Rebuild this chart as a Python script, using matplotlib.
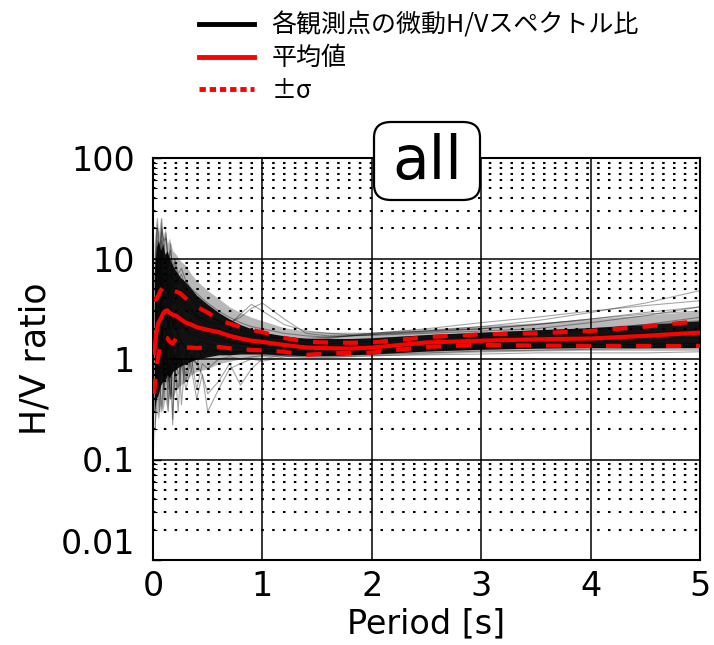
import numpy as np
import matplotlib
matplotlib.use("Agg")
import matplotlib.pyplot as plt
from matplotlib.lines import Line2D
from matplotlib.patches import FancyBboxPatch
from matplotlib.transforms import ScaledTranslation
from matplotlib.ticker import FixedLocator, FixedFormatter, LogLocator, NullFormatter

# ---------------- data ----------------
period_env = [0.01, 0.03, 0.05, 0.07, 0.09, 0.11, 0.13, 0.15, 0.18, 0.21, 0.25, 0.3, 0.35,
              0.4, 0.5, 0.6, 0.7, 0.8, 0.9, 1.0, 1.2, 1.4, 1.6, 1.8, 2.0, 2.5, 3.0, 3.5,
              4.0, 4.5, 5.0]

mean_hv = [1.1, 1.8, 2.3, 2.5, 2.8, 3.0, 3.05, 2.9, 2.75, 2.7, 2.5, 2.3, 2.2, 2.07, 1.95,
           1.85, 1.7, 1.6, 1.52, 1.48, 1.38, 1.3, 1.28, 1.27, 1.3, 1.46, 1.52, 1.57, 1.6,
           1.7, 1.83]
upper_sigma = [3.9, 3.9, 4.3, 4.8, 5.1, 5.3, 5.3, 5.2, 4.8, 4.7, 4.5, 4.0, 3.6, 3.3, 2.9,
               2.45, 2.25, 2.08, 1.95, 1.85, 1.62, 1.48, 1.46, 1.45, 1.46, 1.65, 1.76, 1.8,
               1.9, 2.1, 2.39]
lower_sigma = [0.45, 0.8, 1.1, 1.4, 1.6, 1.65, 1.62, 1.5, 1.42, 1.6, 1.4, 1.3, 1.3, 1.29,
               1.3, 1.32, 1.28, 1.25, 1.23, 1.22, 1.18, 1.1, 1.14, 1.15, 1.16, 1.32, 1.38,
               1.36, 1.35, 1.35, 1.35]

# dense core of the station spectra (nearly solid black)
core_upper = [7, 13, 15, 12, 14, 11, 12, 10, 8.5, 7.5, 6.5, 5.8, 5.0, 4.3, 3.5, 2.9, 2.5,
              2.2, 2.0, 1.85, 1.7, 1.6, 1.6, 1.6, 1.62, 1.75, 1.85, 1.95, 2.05, 2.2, 2.4]
core_lower = [0.3, 0.4, 0.45, 0.55, 0.6, 0.6, 0.7, 0.65, 0.75, 0.8, 0.85, 0.9, 0.95, 1.0,
              1.05, 1.1, 1.1, 1.12, 1.12, 1.12, 1.1, 1.08, 1.08, 1.1, 1.12, 1.2, 1.25, 1.28,
              1.3, 1.3, 1.3]
# looser halo of overlapping spectra (grey)
halo_upper = [14, 24, 18, 26, 16, 20, 14, 16, 12, 11, 9.5, 8.5, 7, 6, 4.8, 4.0, 3.3, 2.9,
              2.6, 2.4, 2.05, 1.9, 1.85, 1.85, 1.85, 2.0, 2.15, 2.3, 2.5, 2.75, 3.0]
halo_lower = [0.15, 0.3, 0.25, 0.35, 0.3, 0.4, 0.3, 0.45, 0.4, 0.5, 0.55, 0.6, 0.7, 0.75,
              0.8, 0.9, 0.95, 1.0, 1.02, 1.05, 1.05, 1.03, 1.03, 1.05, 1.07, 1.12, 1.17,
              1.2, 1.22, 1.22, 1.22]

# individual station spectra
period_line = [0.02, 0.04, 0.06, 0.08, 0.10, 0.12, 0.14, 0.16, 0.18, 0.20, 0.23, 0.26, 0.30,
               0.35, 0.40, 0.45, 0.50, 0.60, 0.70, 0.80, 0.90, 1.00, 1.20, 1.40, 1.60, 1.80,
               2.00, 2.50, 3.00, 3.50, 4.00, 4.50, 5.00]
station_01 = [8, 20, 9, 25, 12, 18, 8, 14, 7, 9, 6, 7, 5, 4.5, 3.8, 3.5, 3.2, 2.8, 2.4, 2.1, 1.9, 1.8, 1.6, 1.55, 1.6, 1.7, 1.75, 1.9, 2.1, 2.4, 2.9, 3.6, 4.8]
station_02 = [0.3, 1.5, 0.5, 2.0, 0.4, 1.2, 0.3, 0.9, 0.25, 0.8, 0.5, 1.0, 0.7, 1.1, 0.9, 1.2, 1.1, 1.2, 1.15, 1.2, 1.15, 1.2, 1.18, 1.15, 1.12, 1.12, 1.15, 1.2, 1.25, 1.3, 1.3, 1.32, 1.35]
station_03 = [3, 10, 5, 15, 6, 9, 4, 8, 5, 6, 4.5, 5, 3.8, 3.2, 2.6, 2.3, 2.1, 1.9, 1.7, 1.6, 1.55, 1.5, 1.45, 1.4, 1.42, 1.45, 1.5, 1.6, 1.7, 1.8, 1.95, 2.2, 2.6]
station_04 = [1.0, 4, 1.5, 6, 2, 3, 1.2, 4, 2, 2.5, 1.5, 3, 2.2, 2.5, 1.8, 2.0, 1.7, 1.6, 1.5, 1.4, 1.35, 1.3, 1.3, 1.25, 1.25, 1.3, 1.35, 1.45, 1.5, 1.55, 1.6, 1.65, 1.7]
station_05 = [0.6, 2.5, 1.0, 3.5, 0.6, 2, 0.8, 0.4, 1.8, 0.6, 1.5, 0.35, 1.2, 0.8, 1.4, 1.0, 1.3, 1.2, 1.1, 1.2, 1.25, 1.2, 1.2, 1.2, 1.2, 1.22, 1.25, 1.3, 1.35, 1.38, 1.4, 1.4, 1.42]
station_06 = [2, 6, 3, 9, 4, 6, 3, 5, 3.5, 4, 3, 3.5, 3, 2.8, 2.5, 2.6, 2.4, 2.2, 2.3, 2.6, 3.2, 3.6, 2.5, 1.8, 1.7, 1.7, 1.72, 1.8, 1.9, 2.0, 2.3, 2.7, 3.3]
station_07 = [1.5, 5, 2, 7, 3, 4, 2, 3, 2.5, 2, 1.8, 1.5, 1.3, 1.0, 0.9, 0.7, 0.45, 0.6, 0.9, 0.55, 0.8, 1.0, 1.1, 1.15, 1.18, 1.2, 1.22, 1.25, 1.3, 1.35, 1.38, 1.4, 1.45]
station_08 = [5, 15, 7, 12, 9, 11, 6, 10, 6, 7, 5.5, 6, 4.5, 4, 3.4, 3, 2.8, 2.4, 2.1, 1.9, 1.8, 1.7, 1.6, 1.5, 1.5, 1.55, 1.6, 1.7, 1.8, 1.9, 2.0, 2.2, 2.4]
station_09 = [0.2, 0.8, 0.3, 1.1, 0.5, 0.7, 0.9, 0.4, 0.8, 1.1, 0.9, 1.2, 1.1, 1.3, 1.4, 1.5, 1.4, 1.35, 1.3, 1.3, 1.25, 1.25, 1.22, 1.2, 1.2, 1.22, 1.25, 1.35, 1.45, 1.5, 1.6, 1.7, 1.9]
station_10 = [4, 12, 6, 18, 8, 10, 5, 7, 6, 5, 4, 4.5, 3.5, 3, 2.7, 2.5, 2.3, 2.0, 1.85, 1.75, 1.7, 1.65, 1.6, 1.6, 1.65, 1.7, 1.8, 2.0, 2.3, 2.6, 3.0, 3.4, 3.8]
station_11 = [2.5, 8, 4, 10, 5, 7, 4, 6, 4, 5, 3.5, 4, 3.2, 3.0, 2.8, 2.5, 2.6, 2.4, 2.2, 2.8, 3.5, 3.0, 2.2, 1.9, 1.8, 1.75, 1.8, 1.9, 2.0, 2.2, 2.5, 2.8, 3.0]
station_12 = [0.4, 1.0, 0.6, 0.3, 0.8, 1.5, 0.5, 1.2, 0.22, 0.9, 0.3, 1.0, 0.6, 1.0, 0.5, 0.9, 0.8, 1.0, 1.05, 1.0, 1.05, 1.08, 1.08, 1.05, 1.05, 1.06, 1.08, 1.1, 1.12, 1.15, 1.15, 1.15, 1.18]
station_13 = [1.2, 3, 1.8, 5, 2.5, 3.5, 2, 3, 2.2, 2.6, 2.0, 2.2, 1.9, 1.8, 1.7, 1.6, 1.6, 1.5, 1.45, 1.4, 1.38, 1.35, 1.3, 1.28, 1.3, 1.33, 1.38, 1.5, 1.55, 1.6, 1.7, 1.8, 2.0]
station_14 = [10, 25, 12, 20, 15, 16, 9, 12, 8, 10, 7, 8, 6, 5, 4.5, 4, 3.6, 3.0, 2.6, 2.3, 2.1, 2.0, 1.8, 1.7, 1.65, 1.7, 1.75, 1.85, 2.0, 2.2, 2.5, 2.9, 3.3]
station_15 = [0.8, 2.2, 1.2, 2.8, 1.5, 1.8, 1.2, 2.2, 1.5, 1.6, 1.3, 1.5, 1.3, 1.3, 1.25, 1.2, 1.2, 1.2, 1.18, 1.18, 1.15, 1.15, 1.12, 1.1, 1.1, 1.1, 1.12, 1.15, 1.2, 1.22, 1.25, 1.28, 1.3]
station_16 = [0.5, 1.8, 0.7, 2.5, 1.0, 1.4, 0.6, 1.5, 0.9, 1.1, 0.7, 0.9, 0.5, 0.8, 0.4, 0.7, 0.3, 0.5, 0.8, 0.9, 1.0, 0.95, 1.05, 1.1, 1.12, 1.15, 1.18, 1.22, 1.28, 1.3, 1.3, 1.32, 1.35]
stations = [station_01, station_02, station_03, station_04, station_05, station_06,
            station_07, station_08, station_09, station_10, station_11, station_12,
            station_13, station_14, station_15, station_16]

y_ticks = [0.01, 0.1, 1, 10, 100]
y_tick_labels = ["0.01", "0.1", "1", "10", "100"]
x_ticks = [0, 1, 2, 3, 4, 5]
legend_labels = ["各観測点の微動H/Vスペクトル比", "平均値", "±σ"]
panel_title = "all"

# ---------------- figure ----------------
plt.rcParams["font.family"] = ["DejaVu Sans"]
W, H = 714, 645
fig = plt.figure(figsize=(W / 100, H / 100), dpi=100)
ax = fig.add_axes([153 / W, (H - 560) / H, (700 - 153) / W, (560 - 158) / H])

ax.fill_between(period_env, halo_lower, halo_upper, color="black", alpha=0.28, lw=0, zorder=2)
for s in stations:
    ax.plot(period_line, s, color="black", alpha=0.35, lw=0.8, zorder=3)
ax.fill_between(period_env, core_lower, core_upper, color="black", alpha=0.9, lw=0, zorder=4)

ax.plot(period_env, mean_hv, color="red", lw=3, zorder=6, solid_capstyle="butt")
ax.plot(period_env, upper_sigma, color="red", lw=3, dashes=(3.6, 3.6), zorder=6)
ax.plot(period_env, lower_sigma, color="red", lw=3, dashes=(3.6, 3.6), zorder=6)

ax.set_yscale("log")
ax.set_xlim(0, 5)
ax.set_ylim(0.01, 100)
ax.yaxis.set_major_locator(FixedLocator(y_ticks))
ax.yaxis.set_major_formatter(FixedFormatter(y_tick_labels))
ax.yaxis.set_minor_locator(LogLocator(base=10, subs=np.arange(2, 10)))
ax.yaxis.set_minor_formatter(NullFormatter())
ax.set_xticks(x_ticks)
ax.set_xticklabels([str(v) for v in x_ticks])

ax.grid(True, which="major", axis="both", color="black", lw=1.1, zorder=1)
ax.grid(True, which="minor", axis="y", color="black", lw=1.5, linestyle=(0, (1.2, 4.0)), zorder=1)
ax.set_axisbelow(True)

ax.tick_params(axis="y", which="major", direction="in", labelsize=24, length=6, width=1, pad=13)
ax.tick_params(axis="x", which="major", direction="in", labelsize=24, length=0, pad=7.5)
ax.tick_params(axis="y", which="minor", direction="in", length=3, width=0.8)
for sp in ax.spines.values():
    sp.set_linewidth(1.5)

# the lowest y label sits raised above its grid line in the reference
fig.canvas.draw()
lbl = ax.get_yticklabels()[0]
lbl.set_transform(lbl.get_transform() + ScaledTranslation(0, 14 / 72, fig.dpi_scale_trans))

ax.set_xlabel("Period [s]", fontsize=24, labelpad=3)
ax.set_ylabel("H/V ratio", fontsize=25, labelpad=6)

# rounded title box straddling the top of the axes
bx0, by0, bx1, by1 = 374, 122, 480, 200
box = FancyBboxPatch((bx0 / W, (H - by1) / H), (bx1 - bx0) / W, (by1 - by0) / H,
                     boxstyle="round,pad=0,rounding_size=0.024", transform=fig.transFigure,
                     fc="white", ec="black", lw=1.6, zorder=10)
fig.patches.append(box)
fig.text((bx0 + bx1) / 2 / W, (H - 163) / H, panel_title, ha="center", va="center",
         fontsize=43, zorder=11)

handles = [Line2D([0], [0], color="black", lw=3.5),
           Line2D([0], [0], color="red", lw=3.5),
           Line2D([0], [0], color="red", lw=3.5, linestyle=(0, (1.3, 0.8)))]
leg = fig.legend(handles, legend_labels, loc="upper left", bbox_to_anchor=(186 / W, 1.0),
                 frameon=False, prop={"family": ["Noto Sans CJK JP", "DejaVu Sans"], "size": 18},
                 handlelength=2.2, handletextpad=0.72, labelspacing=0.27, borderaxespad=0.1)

fig.savefig("out.png", dpi=100)
